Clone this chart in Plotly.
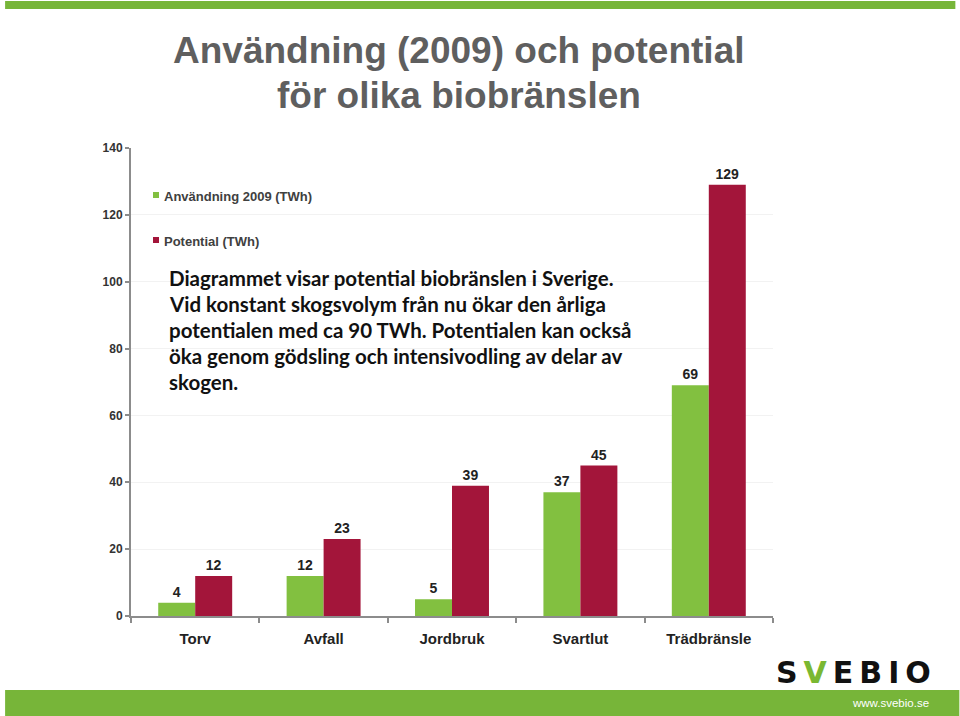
import plotly.graph_objects as go

categories = ["Torv", "Avfall", "Jordbruk", "Svartlut", "Trädbränsle"]
anvandning_2009 = [4, 12, 5, 37, 69]
potential = [12, 23, 39, 45, 129]
y_ticks = [0, 20, 40, 60, 80, 100, 120, 140]

series_names = ["Användning 2009 (TWh)", "Potential (TWh)"]
GREEN = "#82C040"
RED = "#A3153A"
BAND = "#77B539"

title_lines = ["Användning (2009) och potential", "för olika biobränslen"]
note_lines = [
    "Diagrammet visar potential biobränslen i Sverige.",
    "Vid konstant skogsvolym från nu ökar den årliga",
    "potentialen med ca 90 TWh. Potentialen kan också",
    "öka genom gödsling och intensivodling av delar av",
    "skogen.",
]

W, H = 960, 716
L, R, T, B = 131, 186.5, 148, 100
PW = W - L - R
PH = H - T - B


def px_x(x):
    return (x - L) / PW


def px_y(y):
    return (H - B - y) / PH


fig = go.Figure()
for name, vals, col in [(series_names[0], anvandning_2009, GREEN), (series_names[1], potential, RED)]:
    fig.add_trace(go.Bar(
        x=categories, y=vals, name=name, marker=dict(color=col, line=dict(width=0)),
        text=["<b>%d</b>" % v for v in vals], textposition="outside", cliponaxis=False,
        textfont=dict(family="Liberation Sans, Arial", size=14, color="#222222"),
        showlegend=False,
    ))

shapes = [
    dict(type="rect", xref="paper", yref="paper", x0=px_x(5), x1=px_x(956), y0=px_y(9), y1=px_y(1),
         fillcolor=BAND, line=dict(width=0), layer="below"),
    dict(type="rect", xref="paper", yref="paper", x0=px_x(5), x1=px_x(960), y0=px_y(716), y1=px_y(690),
         fillcolor=BAND, line=dict(width=0), layer="below"),
]
annotations = []

# Title
for i, line in enumerate(title_lines):
    annotations.append(dict(text="<b>" + line + "</b>", xref="paper", yref="paper",
                            x=px_x(459), y=px_y(50 + 46 * i), xanchor="center", yanchor="middle",
                            showarrow=False,
                            font=dict(family="Liberation Sans, Arial", size=37, color="#5F5F5F")))

# Legend (manual)
leg_cols = [GREEN, RED]
leg_y = [195, 240]
for name, col, yy in zip(series_names, leg_cols, leg_y):
    shapes.append(dict(type="rect", xref="paper", yref="paper", x0=px_x(153), x1=px_x(159),
                       y0=px_y(yy + 3), y1=px_y(yy - 3), fillcolor=col, line=dict(width=0)))
    annotations.append(dict(text="<b>" + name + "</b>", xref="paper", yref="paper",
                            x=px_x(162), y=px_y(yy + 1), xanchor="left", yanchor="middle",
                            showarrow=False,
                            font=dict(family="Liberation Sans, Arial", size=13, color="#404040")))

# Note text
for i, line in enumerate(note_lines):
    annotations.append(dict(text="<b>" + line + "</b>", xref="paper", yref="paper",
                            x=px_x(167), y=px_y(278 + 26 * i), xanchor="left", yanchor="middle",
                            showarrow=False,
                            font=dict(family="Lato, Noto Sans", size=20.5, color="#111111")))

# Logo
annotations.append(dict(text="<b>S\u2009<span style='color:#7AB832'>V</span>\u2009E\u2009B\u2009I\u2009O</b>",
                        xref="paper", yref="paper",
                        x=px_x(854), y=px_y(672), xanchor="center", yanchor="middle", showarrow=False,
                        font=dict(family="DejaVu Sans", size=30, color="#111111")))
annotations.append(dict(text="www.svebio.se", xref="paper", yref="paper",
                        x=px_x(932), y=px_y(703), xanchor="right", yanchor="middle", showarrow=False,
                        font=dict(family="Liberation Sans, Arial", size=11.5, color="#FFFFFF")))

fig.update_layout(
    width=W, height=H,
    margin=dict(l=L, r=R, t=T, b=B, pad=0),
    paper_bgcolor="white", plot_bgcolor="white",
    barmode="group", bargap=0.424, bargroupgap=0,
    shapes=shapes, annotations=annotations,
)
fig.update_xaxes(
    showline=True, linecolor="#8C8C8C", linewidth=2,
    ticks="outside", tickson="boundaries", ticklen=5, tickcolor="#8C8C8C", tickwidth=2,
    tickfont=dict(family="Liberation Sans, Arial", size=15, color="#222222"),
    tickprefix="<b>", ticksuffix="</b>", ticklabelstandoff=8,
    showgrid=False,
)
fig.update_yaxes(
    range=[0, 140], tickvals=y_ticks, ticktext=["<b>%d</b>" % v for v in y_ticks],
    showline=True, linecolor="#8C8C8C", linewidth=2,
    ticks="outside", ticklen=4, tickcolor="#8C8C8C", tickwidth=2,
    tickfont=dict(family="Liberation Sans, Arial", size=12, color="#333333"),
    showgrid=True, gridcolor="#F2F2F2", gridwidth=1, zeroline=False,
)

fig.write_html("out.html")
